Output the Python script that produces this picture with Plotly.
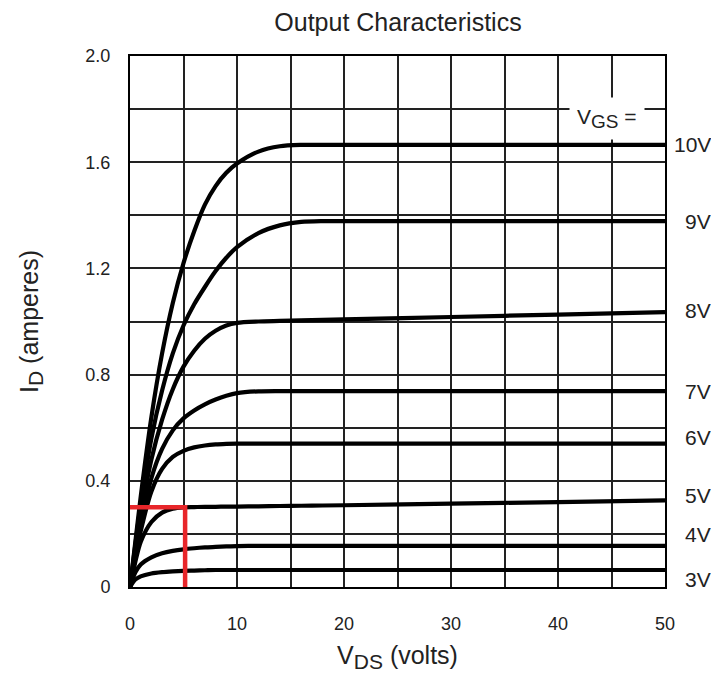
import plotly.graph_objects as go

vds = [0, 0.5, 1, 2, 3, 4, 5, 6, 7, 8, 9, 10, 12, 14, 16, 18, 20, 30, 40, 50]

id_10v = [0, 0.17, 0.34, 0.64, 0.88, 1.07, 1.22, 1.34, 1.44, 1.51, 1.56, 1.595, 1.64, 1.66, 1.665, 1.665, 1.665, 1.665, 1.665, 1.665]
id_9v = [0, 0.16, 0.31, 0.56, 0.74, 0.88, 0.985, 1.065, 1.13, 1.19, 1.24, 1.28, 1.333, 1.362, 1.375, 1.378, 1.378, 1.378, 1.378, 1.378]
id_8v = [0, 0.14, 0.27, 0.48, 0.63, 0.745, 0.83, 0.89, 0.935, 0.965, 0.985, 0.995, 1.0, 1.002, 1.004, 1.006, 1.008, 1.017, 1.026, 1.035]
id_7v = [0, 0.12, 0.23, 0.41, 0.52, 0.59, 0.635, 0.665, 0.688, 0.706, 0.72, 0.73, 0.737, 0.738, 0.738, 0.738, 0.738, 0.738, 0.738, 0.738]
id_6v = [0, 0.11, 0.21, 0.36, 0.445, 0.49, 0.513, 0.526, 0.533, 0.537, 0.539, 0.54, 0.54, 0.54, 0.54, 0.54, 0.54, 0.54, 0.54, 0.54]
id_5v = [0, 0.095, 0.17, 0.245, 0.28, 0.295, 0.30, 0.301, 0.302, 0.302, 0.303, 0.303, 0.304, 0.305, 0.306, 0.307, 0.308, 0.314, 0.32, 0.326]
id_4v = [0, 0.055, 0.085, 0.112, 0.127, 0.136, 0.142, 0.146, 0.149, 0.151, 0.153, 0.154, 0.155, 0.155, 0.155, 0.155, 0.155, 0.155, 0.155, 0.155]
id_3v = [0, 0.028, 0.04, 0.051, 0.056, 0.059, 0.061, 0.062, 0.063, 0.064, 0.064, 0.064, 0.064, 0.064, 0.064, 0.064, 0.064, 0.064, 0.064, 0.064]

curves = [id_10v, id_9v, id_8v, id_7v, id_6v, id_5v, id_4v, id_3v]
vgs_labels = ["10V", "9V", "8V", "7V", "6V", "5V", "4V", "3V"]
label_y = [1.667, 1.378, 1.04, 0.738, 0.562, 0.345, 0.199, 0.03]

# red operating-point marker
op_vds = 5.15
op_id = 0.30

x_tickvals = [0, 5, 10, 15, 20, 25, 30, 35, 40, 45, 50]
x_ticktext = ["0", "", "10", "", "20", "", "30", "", "40", "", "50"]
y_tickvals = [0, 0.2, 0.4, 0.6, 0.8, 1.0, 1.2, 1.4, 1.6, 1.8, 2.0]
y_ticktext = ["0", "", "0.4", "", "0.8", "", "1.2", "", "1.6", "", "2.0"]

FONT = "Liberation Sans, Arial, sans-serif"
TXT = "#222"

fig = go.Figure()
for ys in curves:
    fig.add_trace(go.Scatter(x=vds, y=ys, mode="lines",
                             line=dict(color="black", width=4.2, shape="spline", smoothing=0.8),
                             hoverinfo="skip", showlegend=False))

fig.add_trace(go.Scatter(x=[0, op_vds, op_vds], y=[op_id, op_id, 0], mode="lines",
                         line=dict(color="#e8262a", width=4.5),
                         hoverinfo="skip", showlegend=False))

for lab, yv in zip(vgs_labels, label_y):
    fig.add_annotation(x=1.09, xref="paper", y=yv, yref="y", text=lab,
                       showarrow=False, xanchor="right", yanchor="middle",
                       font=dict(family=FONT, size=21, color=TXT))

fig.add_annotation(x=44.6, xref="x", y=1.765, yref="y",
                   text='V<sub><span style="font-size:19px">GS</span></sub> =',
                   showarrow=False, xanchor="center", yanchor="middle",
                   bgcolor="white", borderpad=7,
                   font=dict(family=FONT, size=21, color=TXT))

fig.update_layout(
    width=711, height=669,
    margin=dict(l=122, r=54, t=48, b=87),
    paper_bgcolor="white", plot_bgcolor="white",
    title=dict(text="Output Characteristics", x=0.5485, xanchor="center",
               y=0.979, yanchor="middle",
               font=dict(family=FONT, size=25, color=TXT)),
    font=dict(family=FONT, color=TXT),
)
fig.update_xaxes(range=[0, 50], tickvals=x_tickvals, ticktext=x_ticktext,
                 showgrid=True, gridcolor="#222", gridwidth=1.5,
                 showline=True, linecolor="black", linewidth=2, mirror=True,
                 zeroline=False, ticks="", ticklabelstandoff=19,
                 tickfont=dict(family=FONT, size=18, color=TXT),
                 title=dict(text='V<sub><span style="font-size:21px">DS</span></sub> (volts)', standoff=14,
                            font=dict(family=FONT, size=25, color=TXT)))
fig.update_yaxes(range=[0, 2.0], tickvals=y_tickvals, ticktext=y_ticktext,
                 showgrid=True, gridcolor="#222", gridwidth=1.5,
                 showline=True, linecolor="black", linewidth=2, mirror=True,
                 zeroline=False, ticks="", ticklabelstandoff=14,
                 tickfont=dict(family=FONT, size=18, color=TXT),
                 title=dict(text='I<sub><span style="font-size:21px">D</span></sub> (amperes)', standoff=40,
                            font=dict(family=FONT, size=25, color=TXT)))

fig.write_html("out.html")
